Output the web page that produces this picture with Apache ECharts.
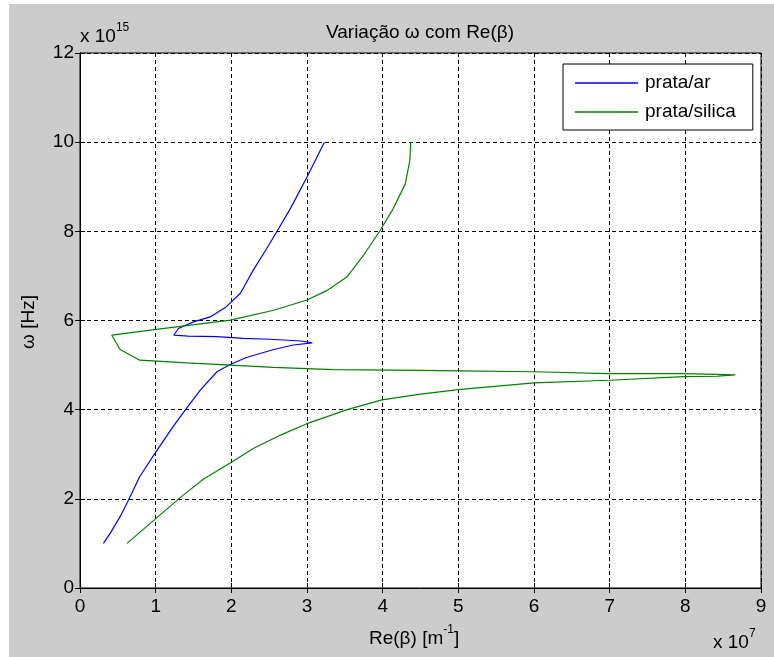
<!DOCTYPE html>
<html>
<head>
<meta charset="utf-8">
<script src="https://cdn.jsdelivr.net/npm/echarts@6/dist/echarts.min.js"></script>
<style>
  html, body { margin: 0; padding: 0; background: #ffffff; }
  #frame { position: absolute; left: 9px; top: 4px; width: 765px; height: 653px; background: #cccccc; }
  #chart { width: 765px; height: 653px; }
</style>
</head>
<body>
<div id="frame"><div id="chart"></div></div>
<script>
// Re(beta) in units of 1e7 m^-1, omega in units of 1e15 Hz
const pratAr_beta = [0.31, 0.40, 0.53, 0.64, 0.79, 0.99, 1.23, 1.39, 1.59, 1.81, 1.99, 2.20, 2.56, 2.82, 3.07,
  2.92, 2.51, 2.16, 1.81, 1.43, 1.24, 1.30, 1.50, 1.72, 1.92, 2.12, 2.29, 2.47, 2.60, 2.78, 3.00, 3.23];
const pratAr_omega = [1.00, 1.23, 1.60, 1.97, 2.50, 3.02, 3.62, 3.99, 4.44, 4.85, 5.02, 5.17, 5.35, 5.45, 5.50,
  5.54, 5.58, 5.60, 5.64, 5.65, 5.67, 5.82, 5.97, 6.08, 6.29, 6.61, 7.13, 7.62, 7.99, 8.51, 9.22, 10.00];

const pratSilica_beta = [0.62, 0.99, 1.34, 1.63, 1.99, 2.29, 2.65, 2.99, 3.53, 3.99, 4.50, 5.00, 6.00, 6.99, 7.98, 8.42, 8.66,
  7.98, 6.98, 6.00, 5.00, 4.50, 3.35, 2.56, 1.99, 1.41, 0.79, 0.53, 0.42,
  1.01, 1.99, 2.56, 3.00, 3.26, 3.53, 3.75, 3.97, 4.14, 4.30, 4.36, 4.37];
const pratSilica_omega = [1.00, 1.54, 2.05, 2.44, 2.81, 3.13, 3.43, 3.68, 4.00, 4.22, 4.35, 4.45, 4.60, 4.66, 4.74, 4.75, 4.78,
  4.81, 4.81, 4.85, 4.87, 4.88, 4.90, 4.95, 5.00, 5.05, 5.11, 5.35, 5.67,
  5.80, 6.01, 6.23, 6.46, 6.67, 6.98, 7.47, 8.03, 8.51, 9.07, 9.60, 10.00];

const seriesNames = ['prata/ar', 'prata/silica'];
const xTicks = { min: 0, max: 9, step: 1 };
const yTicks = { min: 0, max: 12, step: 2 };

const FONT = "'Liberation Sans', Arial, sans-serif";
const zip = (xs, ys) => xs.map((x, i) => [x, ys[i]]);

const chart = echarts.init(document.getElementById('chart'), null, { renderer: 'canvas' });

const tickStyle = { show: true, inside: true, length: 5, lineStyle: { color: '#000', width: 1 } };
const gridLine = { show: true, lineStyle: { color: '#000', width: 1, type: [4, 3] } };

// base text with a raised exponent
const expRich = {
  n: { fontFamily: FONT, fontSize: 19, lineHeight: 24, verticalAlign: 'bottom', fill: '#000' },
  s: { fontFamily: FONT, fontSize: 12, lineHeight: 12, verticalAlign: 'top', fill: '#000' }
};

chart.setOption({
  animation: false,
  backgroundColor: '#cccccc',
  textStyle: { fontFamily: FONT },
  title: {
    text: 'Variação ω com Re(β)',
    left: 411, top: 19, padding: 0, textAlign: 'center',
    textStyle: { fontFamily: FONT, fontSize: 19, fontWeight: 'normal', color: '#000' }
  },
  grid: {
    left: 71, top: 49, right: 13, bottom: 69,
    show: true, backgroundColor: '#ffffff', borderColor: '#000', borderWidth: 1
  },
  legend: {
    left: 554, top: 60,
    orient: 'vertical',
    backgroundColor: '#ffffff', borderColor: '#000', borderWidth: 1, borderRadius: 0,
    padding: [9, 17, 8, 12],
    icon: 'rect',
    itemWidth: 63, itemHeight: 1.5, itemGap: 9,
    textStyle: { fontFamily: FONT, fontSize: 19, color: '#000', lineHeight: 20, padding: [0, 0, 0, 2] },
    data: seriesNames
  },
  xAxis: [
    {
      type: 'value', position: 'bottom',
      min: xTicks.min, max: xTicks.max, interval: xTicks.step,
      axisLine: { show: true, lineStyle: { color: '#000', width: 1 } },
      axisTick: tickStyle,
      axisLabel: { color: '#000', fontSize: 19, fontFamily: FONT, margin: 9 },
      splitLine: gridLine
    },
    {
      type: 'value', position: 'top',
      min: xTicks.min, max: xTicks.max, interval: xTicks.step,
      axisLine: { show: false }, axisTick: tickStyle,
      axisLabel: { show: false }, splitLine: { show: false }
    }
  ],
  yAxis: [
    {
      type: 'value', position: 'left',
      min: yTicks.min, max: yTicks.max, interval: yTicks.step,
      axisLine: { show: true, lineStyle: { color: '#000', width: 1 } },
      axisTick: tickStyle,
      axisLabel: { color: '#000', fontSize: 19, fontFamily: FONT, margin: 6 },
      splitLine: gridLine
    },
    {
      type: 'value', position: 'right',
      min: yTicks.min, max: yTicks.max, interval: yTicks.step,
      axisLine: { show: false }, axisTick: tickStyle,
      axisLabel: { show: false }, splitLine: { show: false }
    }
  ],
  series: [
    {
      name: seriesNames[0], type: 'line', xAxisIndex: 0, yAxisIndex: 0,
      data: zip(pratAr_beta, pratAr_omega),
      symbol: 'none', smooth: false,
      lineStyle: { color: '#0000ff', width: 1.2 }, itemStyle: { color: '#0000ff' }
    },
    {
      name: seriesNames[1], type: 'line', xAxisIndex: 0, yAxisIndex: 0,
      data: zip(pratSilica_beta, pratSilica_omega),
      symbol: 'none', smooth: false,
      lineStyle: { color: '#008000', width: 1.2 }, itemStyle: { color: '#008000' }
    }
  ],
  graphic: [
    {
      type: 'text', left: 71, top: 18,
      style: { text: '{n|x 10}{s|15}', rich: expRich }
    },
    {
      type: 'text', left: 704, top: 624,
      style: { text: '{n|x 10}{s|7}', rich: expRich }
    },
    {
      type: 'text', left: 360, top: 620,
      style: { text: '{n|Re(β) [m}{s|-1}{n|]}', rich: expRich }
    },
    {
      type: 'text', x: 20, y: 318, rotation: Math.PI / 2,
      style: {
        text: 'ω [Hz]', fontFamily: FONT, fontSize: 19, fill: '#000',
        align: 'center', verticalAlign: 'middle'
      }
    }
  ]
});
</script>
</body>
</html>
